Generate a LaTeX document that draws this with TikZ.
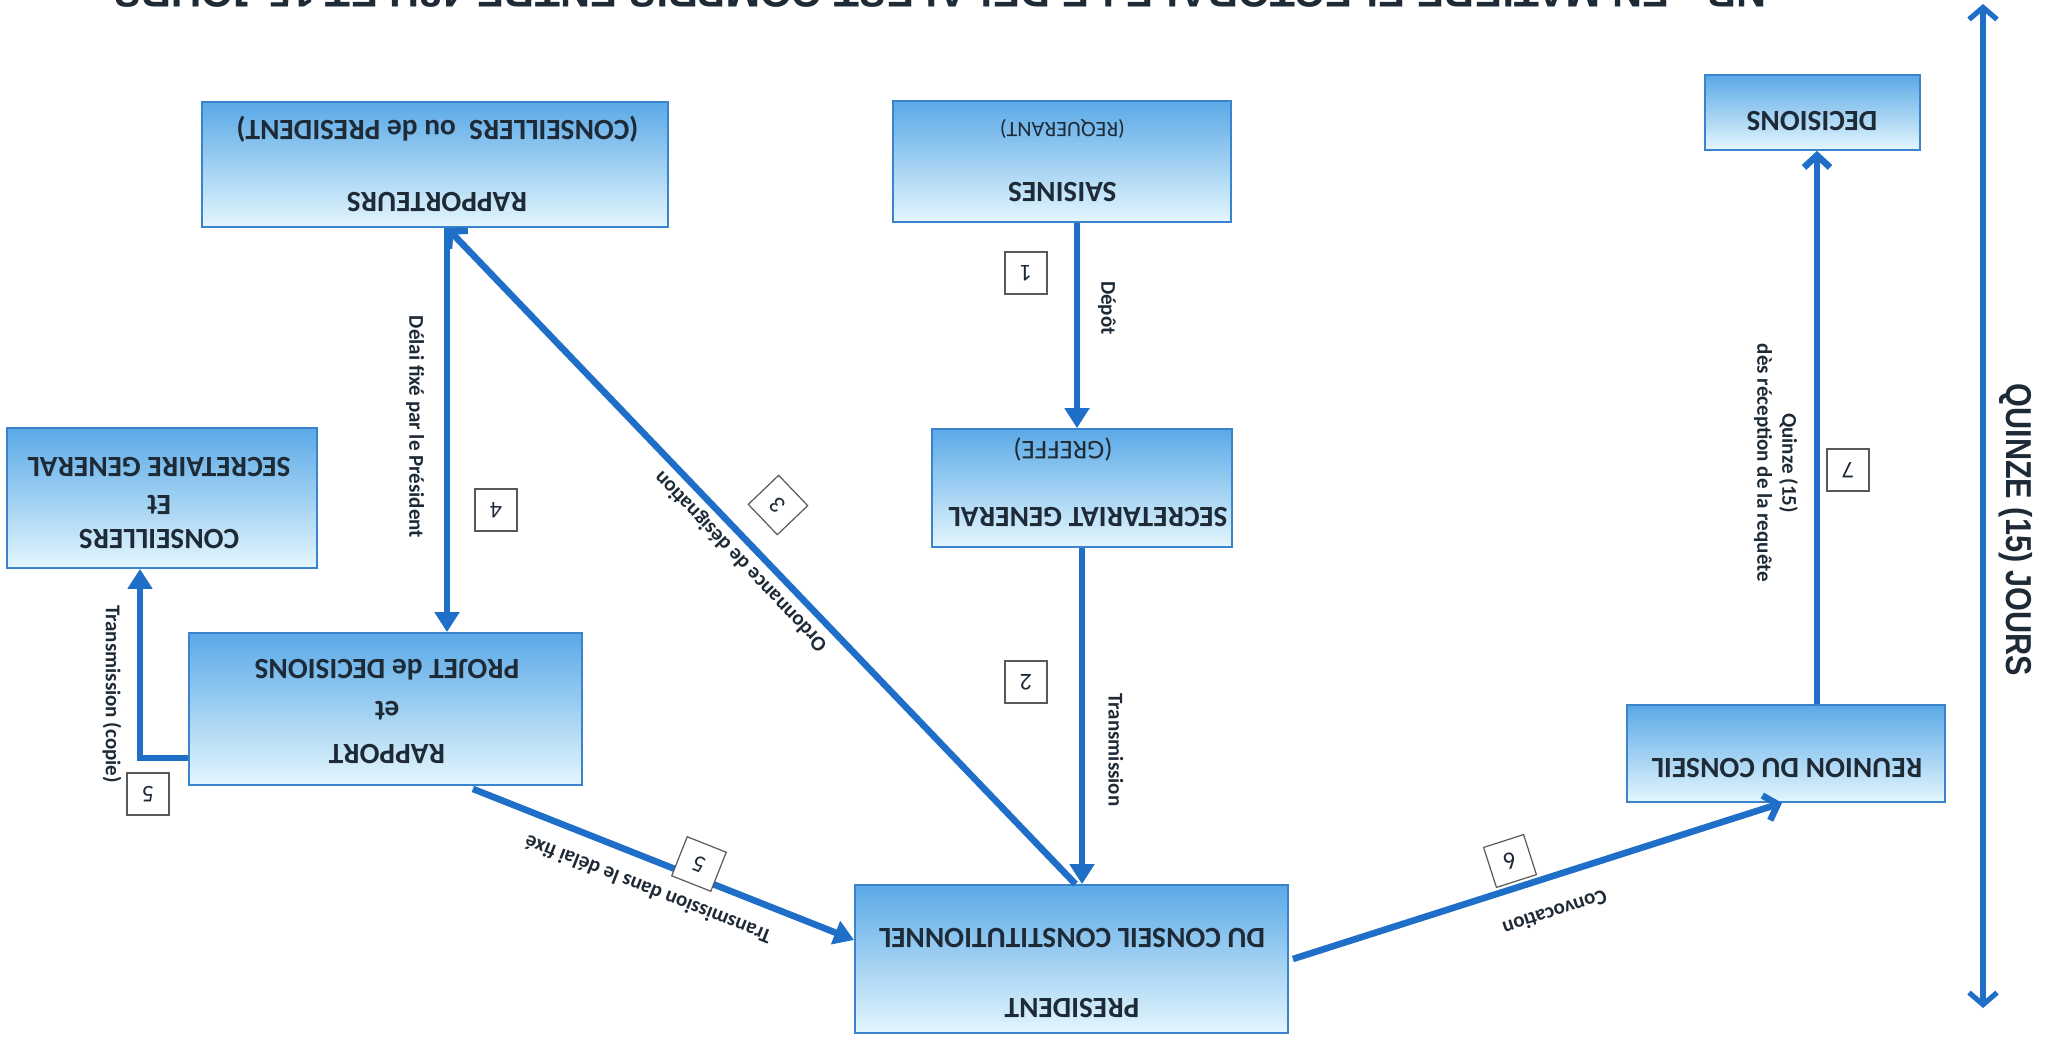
\documentclass[tikz,border=0pt]{standalone}
\usepackage{fontspec}
\setmainfont{Carlito}
\newfontfamily\headfont{Liberation Sans}
\usetikzlibrary{arrows.meta,calc}
\definecolor{boxtop}{HTML}{5AA9E7}
\definecolor{boxbot}{HTML}{E4F6FD}
\definecolor{boxline}{HTML}{3A84CE}
\definecolor{arrowblue}{HTML}{1F6FC8}
\definecolor{txt}{HTML}{1E2A36}
\begin{document}
\begin{tikzpicture}[x=0.5pt,y=-0.5pt,
  box/.style={draw=boxline, line width=0.9pt, top color=boxtop, bottom color=boxbot, inner sep=0pt},
  tmain/.style={font=\bfseries\fontsize{14.7}{16}\selectfont, text=txt, rotate=180, inner sep=0pt},
  tsmall/.style={font=\fontsize{11}{12}\selectfont, text=txt, rotate=180, inner sep=0pt},
  lab/.style={font=\bfseries\fontsize{10.5}{12.5}\selectfont, text=txt, inner sep=0pt},
  numbox/.style={draw=black!65, fill=white, line width=0.6pt, minimum width=21pt, minimum height=21pt, inner sep=0pt, font=\fontsize{12}{14}\selectfont, text=txt},
  conn/.style={draw=arrowblue, line width=3.3pt},
  tri/.style={-{Triangle[length=10pt,width=12pt]}},
  barb/.style={-{Straight Barb[length=6pt,width=13pt]}}
]
\path[use as bounding box, fill=white] (0,0) rectangle (2046,1040);
\clip (0,0) rectangle (2046,1040);

% heading (cut at top)
\node[font=\headfont\bfseries\fontsize{20.7}{22}\selectfont, text=txt, rotate=180, inner sep=0pt] (head) at (940,-7)
  {NB - EN MATIERE ELECTORALE LE DELAI EST COMPRIS ENTRE 48H ET 15 JOURS};

% boxes
\node[box, minimum width=233pt, minimum height=62.5pt] (rapporteurs) at (435,164.5) {};
\node[box, minimum width=169pt, minimum height=60.5pt] (saisines) at (1062,161.5) {};
\node[box, minimum width=107.5pt, minimum height=37.5pt] (decisions) at (1812.5,112.5) {};
\node[box, minimum width=155pt, minimum height=70pt] (conseillers) at (162,498) {};
\node[box, minimum width=150pt, minimum height=59pt] (secretariat) at (1082,488) {};
\node[box, minimum width=196.5pt, minimum height=76pt] (rapport) at (385.5,709) {};
\node[box, minimum width=216.5pt, minimum height=74pt] (president) at (1071.5,959) {};
\node[box, minimum width=159pt, minimum height=48.5pt] (reunion) at (1786,753.5) {};

% box texts
\node[tmain] (t1) at (437,202) {RAPPORTEURS};
\node[tmain] (t2) at (437.5,129) {(CONSEILLERS\ \ ou de PRESIDENT)};
\node[tmain] (t3) at (1062.5,192) {SAISINES};
\node[tsmall] (t4) at (1062.5,129) {(REQUERANT)};
\node[tmain] (t5) at (1812,121) {DECISIONS};
\node[tmain] (t6) at (159,467) {SECRETAIRE GENERAL};
\node[tmain] (t7) at (159,505) {Et};
\node[tmain] (t8) at (159,539) {CONSEILLERS};
\node[tmain] (t9) at (1088,517) {SECRETARIAT GENERAL};
\node[tsmall, font=\fontsize{13.5}{15}\selectfont] (t10) at (1063,449) {(GREFFE)};
\node[tmain] (t11) at (387,670) {PROJET de DECISIONS};
\node[tmain] (t12) at (387,711) {et};
\node[tmain] (t13) at (387,754) {RAPPORT};
\node[tmain] (t14) at (1072,938) {DU CONSEIL CONSTITUTIONNEL};
\node[tmain] (t15) at (1072,1008) {PRESIDENT};
\node[tmain] (t16) at (1787,768) {REUNION DU CONSEIL};

% helper coordinates
\coordinate (r4) at ($(rapporteurs.south)+(12,0)$);
\coordinate (tTop) at (1983,4);
\coordinate (tBot) at (1983,1008);

% connectors
\draw[conn, tri] ($(saisines.south)+(15,0)$) -- ($(secretariat.north)+(-5,0)$);
\draw[conn, tri] (secretariat.south) -- (secretariat.south |- president.north);
\draw[conn, barb] ($(president.north)+(4,0)$) -- (r4);
\draw[conn, tri] (r4) -- (r4 |- rapport.north);
\draw[conn, tri] ($(rapport.south west)+(0,-28)$) -| ($(conseillers.south)+(-22,0)$);
\draw[conn, tri] ($(rapport.south east)+(-110,3)$) -- ($(president.west)+(0,-19)$);
\draw[conn, barb] ($(president.east)+(4,0)$) -- ($(reunion.south)+(-4,0)$);
\draw[conn, barb] ($(reunion.north)+(31,0)$) -- ($(decisions.south)+(4.5,0)$);
\draw[draw=arrowblue, line width=2.6pt, {Straight Barb[length=6pt,width=14pt]}-{Straight Barb[length=6pt,width=14pt]}] (tTop) -- (tBot);

% number boxes
\node[numbox, rotate=180] (n1) at (1026,273) {1};
\node[numbox, rotate=180] (n2) at (1026,682) {2};
\node[numbox, rotate=133.7] (n3) at (778,505) {3};
\node[numbox, rotate=180] (n4) at (496,510) {4};
\node[numbox, rotate=180] (n5a) at (148,794) {5};
\node[numbox, rotate=158.4] (n5b) at (699,864) {5};
\node[numbox, rotate=197.8] (n6) at (1510,861) {6};
\node[numbox, rotate=180] (n7) at (1848,470) {7};

% labels
\node[lab, rotate=-90] (l1) at (1107,308) {Dépôt};
\node[lab, rotate=-90] (l2) at (1116,750) {Transmission};
\node[lab, rotate=133.7] (l3) at (741,561) {Ordonnance de désignation};
\node[lab, rotate=-90] (l4) at (415,427) {Délai fixé par le Président};
\node[lab, rotate=-90] (l5a) at (112,694) {Transmission (copie)};
\node[lab, rotate=158.4] (l5b) at (648,890) {Transmission dans le délai fixé};
\node[lab, rotate=197.8] (l6) at (1555,913) {Convocation};
\node[lab, rotate=-90, align=center] (l7) at (1776,463) {Quinze (15)\\dès réception de la requête};
\node[font=\headfont\bfseries\fontsize{18}{20}\selectfont, text=txt, rotate=-90, inner sep=0pt] (q) at (2016,530) {\scalebox{0.85}[1]{QUINZE (15) JOURS}};
\end{tikzpicture}
\end{document}
